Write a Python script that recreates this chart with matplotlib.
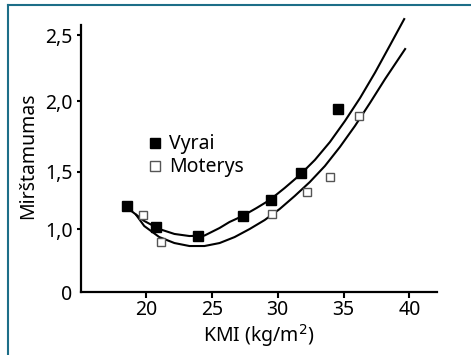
import numpy as np
import matplotlib
matplotlib.use('Agg')
import matplotlib.pyplot as plt
from matplotlib.lines import Line2D

plt.rcParams['font.family'] = ['Noto Sans', 'DejaVu Sans']

# measured points
vyrai_x = [18.55, 20.76, 23.96, 27.39, 29.52, 31.75, 34.59]
vyrai_y = [1.203, 1.02, 0.94, 1.116, 1.252, 1.484, 1.941]
moterys_x = [19.74, 21.11, 29.54, 32.23, 33.96, 36.17]
moterys_y = [1.122, 0.884, 1.128, 1.322, 1.45, 1.891]

# fitted curves
vyrai_fit_x = [18.80, 19.87, 21.01, 22.16, 23.30, 24.44, 25.59, 26.34, 27.33, 28.40,
               29.39, 30.53, 31.68, 32.82, 33.96, 35.10, 36.25, 37.39, 38.53, 39.60]
vyrai_fit_y = [1.165, 1.070, 1.000, 0.957, 0.939, 0.943, 1.009, 1.061, 1.113, 1.183,
               1.252, 1.357, 1.470, 1.582, 1.709, 1.858, 2.023, 2.216, 2.424, 2.621]
moterys_fit_x = [19.26, 19.87, 21.01, 22.16, 23.30, 24.44, 25.59, 26.73, 27.87, 29.01,
                 30.15, 31.29, 32.44, 33.58, 34.72, 35.86, 37.00, 38.15, 39.67]
moterys_fit_y = [1.122, 1.026, 0.930, 0.878, 0.852, 0.852, 0.878, 0.930, 1.000, 1.078,
                 1.174, 1.287, 1.409, 1.539, 1.674, 1.823, 1.986, 2.167, 2.394]

x_ticks = [20, 25, 30, 35, 40]
y_ticks = [0.452, 1.0, 1.5, 2.0, 2.5]
y_labels = ['0', '1,0', '1,5', '2,0', '2,5']

# broken y axis: uneven spacing as in the printed figure
Y_ANCH = [-5.0, 0.452, 1.0, 1.5, 2.0, 2.5, 5.0]
H_ANCH = [-(0.452 + 5.0) * 115, 0, 63, 120.5, 191, 257, 257 + 2.5 * 132]


def fwd(v):
    return np.interp(v, Y_ANCH, H_ANCH)


def inv(h):
    return np.interp(h, H_ANCH, Y_ANCH)


fig = plt.figure(figsize=(4.71, 3.55), dpi=100)
ax = fig.add_axes([81 / 471, 63 / 355, (437 - 81) / 471, (292 - 20) / 355])
ax.set_yscale('function', functions=(fwd, inv))

ax.plot(vyrai_fit_x, vyrai_fit_y, color='black', lw=1.5, clip_on=False)
ax.plot(moterys_fit_x, moterys_fit_y, color='black', lw=1.5, clip_on=False)

ax.plot(vyrai_x, vyrai_y, 's', ms=7.2, color='black', clip_on=False, zorder=3)
ax.plot(moterys_x, moterys_y, 's', ms=6, mfc='white', mec='#555555', mew=1.0,
        clip_on=False, zorder=3)

ax.set_xlim(15.07, 42.09)
ax.set_ylim(0.452, 2.614)
ax.spines['top'].set_visible(False)
ax.spines['right'].set_visible(False)
for s in ('left', 'bottom'):
    ax.spines[s].set_linewidth(1.6)
ax.spines['left'].set_bounds(0.452, 2.576)

ax.set_xticks(x_ticks)
ax.set_yticks(y_ticks)
ax.set_yticklabels(y_labels)
ax.minorticks_off()
ax.tick_params(axis='x', direction='out', length=4, width=1.5, labelsize=14, pad=2)
ax.tick_params(axis='y', direction='out', length=3, width=1.5, labelsize=14, pad=3)
ax.yaxis.get_major_ticks()[0].tick1line.set_visible(False)

ax.set_xlabel('KMI (kg/m$^2$)', fontsize=14, labelpad=1)
ax.set_ylabel('Mirštamumas', fontsize=14, labelpad=5)

ax.legend([Line2D([], [], ls='none', marker='s', ms=6.5, color='black'),
           Line2D([], [], ls='none', marker='s', ms=6.5, mfc='white', mec='#555555')],
          ['Vyrai', 'Moterys'], loc='upper left', bbox_to_anchor=(0.165, 0.615),
          frameon=False, fontsize=14, handlelength=0.6, handletextpad=0.4,
          labelspacing=0.15, borderpad=0)

# blue frame around the figure
frame = '#1d6e88'
fig.add_artist(Line2D([8 / 471, 8 / 471], [0, 1 - 5 / 355], color=frame, lw=1.5))
fig.add_artist(Line2D([8 / 471, 1], [1 - 5 / 355, 1 - 5 / 355], color=frame, lw=1.5))

fig.savefig('out.png', dpi=100)
